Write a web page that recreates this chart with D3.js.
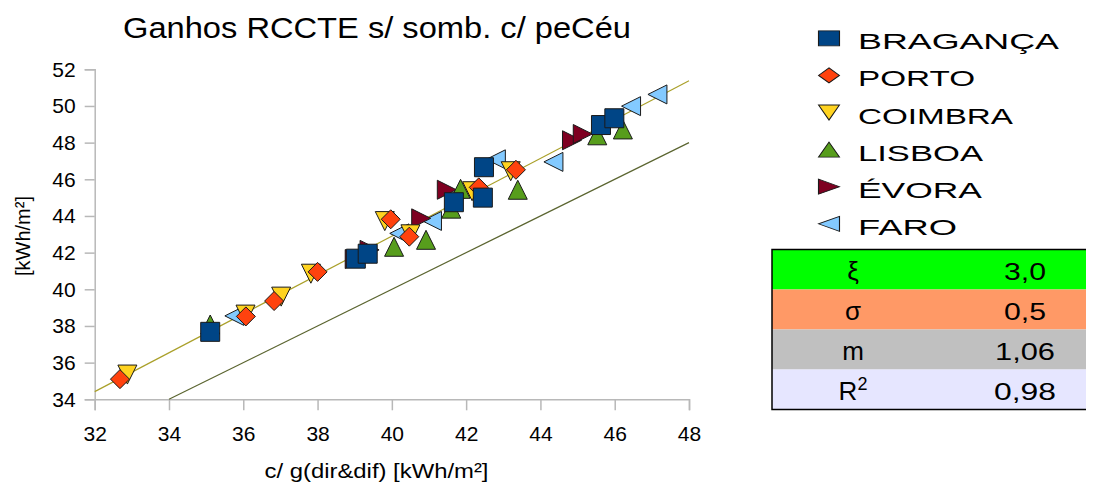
<!DOCTYPE html>
<html><head><meta charset="utf-8">
<script src="https://cdn.jsdelivr.net/npm/d3@7/dist/d3.min.js"></script>
<style>
html,body{margin:0;padding:0;background:#fff;}
svg{display:block;font-family:"Liberation Sans",Arial,sans-serif;}
</style></head>
<body>
<svg id="chart" width="1100" height="484"></svg>
<script>
// ---------- data ----------
const titleText = "Ganhos RCCTE s/ somb. c/ peCéu";
const xTitle = "c/ g(dir&dif) [kWh/m²]";
const yTitle = "[kWh/m²]";
const xTicks = [32, 34, 36, 38, 40, 42, 44, 46, 48];
const yTicks = [34, 36, 38, 40, 42, 44, 46, 48, 50, 52];
const seriesNames = ["BRAGANÇA", "PORTO", "COIMBRA", "LISBOA", "ÉVORA", "FARO"];
const seriesColors = ["#004586", "#ff420e", "#ffd320", "#579d1c", "#7e0021", "#83caff"];
const seriesShapes = ["square", "diamond", "down", "up", "right", "left"];

const braganca = [[35.11,37.68],[39.03,41.67],[39.35,41.94],[41.67,44.75],[42.45,45.0],[42.48,46.66],[45.63,48.96],[45.99,49.33]];
const porto    = [[32.68,35.10],[36.07,38.52],[36.83,39.36],[38.0,40.95],[39.97,43.82],[40.47,42.87],[42.34,45.56],[43.34,46.52]];
const coimbra  = [[32.88,35.35],[36.06,38.62],[37.02,39.6],[37.82,40.85],[39.81,43.72],[40.5,43.0],[42.16,45.35],[43.2,46.44]];
const lisboa   = [[35.11,38.08],[40.06,42.32],[40.92,42.7],[41.6,44.4],[41.85,45.48],[43.39,45.43],[45.53,48.4],[46.22,48.72]];
const evora    = [[39.0,41.65],[39.4,42.15],[40.79,43.87],[41.48,45.43],[44.85,48.13],[45.14,48.47]];
const faro     = [[35.76,38.55],[40.2,43.05],[41.08,43.73],[42.8,47.09],[44.35,46.95],[46.44,49.99],[47.15,50.63]];
const seriesData = [braganca, porto, coimbra, lisboa, evora, faro];

const trendSlope = 1.06, trendIntercept = 0.5;   // regression line
const refLine = [[34, 34], [48, 48]];            // y = x

const tableLabels = ["ξ", "σ", "m", "R2"];
const tableValues = ["3,0", "0,5", "1,06", "0,98"];
const tableColors = ["#00ff00", "#ff9966", "#c0c0c0", "#e6e6ff"];

// ---------- layout ----------
const svg = d3.select("#chart");
const x = d3.scaleLinear().domain([32, 48]).range([94.7, 689]);
const y = d3.scaleLinear().domain([34, 52]).range([399.3, 69.3]);

function shapePath(shape, h) {
  switch (shape) {
    case "square":  return `M${-h},${-h}H${h}V${h}H${-h}Z`;
    case "diamond": return `M0,${-h}L${h},0L0,${h}L${-h},0Z`;
    case "down":    return `M${-h},${-h}L${h},${-h}L0,${h}Z`;
    case "up":      return `M0,${-h}L${h},${h}L${-h},${h}Z`;
    case "right":   return `M${-h},${-h}L${h},0L${-h},${h}Z`;
    case "left":    return `M${h},${-h}L${-h},0L${h},${h}Z`;
  }
}

// title
svg.append("text").attr("x", 377).attr("y", 38).attr("text-anchor", "middle")
  .attr("font-size", 30).attr("textLength", 508).attr("lengthAdjust", "spacingAndGlyphs")
  .text(titleText);

// axes
const axisColor = "#b8b8b8";
const gx = svg.append("g").attr("transform", `translate(0,${y(34)})`)
  .call(d3.axisBottom(x).tickValues(xTicks).tickSize(11).tickPadding(16).tickFormat(d3.format("d")));
const gy = svg.append("g").attr("transform", `translate(${x(32)},0)`)
  .call(d3.axisLeft(y).tickValues(yTicks).tickSize(10).tickPadding(9).tickFormat(d3.format("d")));
[gx, gy].forEach(g => {
  g.select(".domain").attr("stroke", axisColor).attr("stroke-width", 1.5);
  g.selectAll(".tick line").attr("stroke", axisColor).attr("stroke-width", 1.5);
  g.selectAll(".tick text").attr("font-size", 21).attr("fill", "#000")
    .attr("font-family", "Liberation Sans, Arial, sans-serif");
});

// axis titles
svg.append("text").attr("x", 376.5).attr("y", 478).attr("text-anchor", "middle")
  .attr("font-size", 20).attr("textLength", 224).attr("lengthAdjust", "spacingAndGlyphs")
  .text(xTitle);
svg.append("text").attr("transform", `translate(30,236) rotate(-90)`).attr("text-anchor", "middle")
  .attr("font-size", 20).text(yTitle);

// lines
const line = d3.line().x(d => x(d[0])).y(d => y(d[1]));
svg.append("path").datum(refLine).attr("d", line)
  .attr("fill", "none").attr("stroke", "#5b6530").attr("stroke-width", 1.2);
const trend = [32, 48].map(v => [v, trendSlope * v + trendIntercept]);
svg.append("path").datum(trend).attr("d", line)
  .attr("fill", "none").attr("stroke", "#aaa02a").attr("stroke-width", 1.2);

// points (last series drawn first, so BRAGANÇA ends on top)
const order = d3.range(seriesData.length).reverse();
order.forEach(i => {
  svg.append("g").selectAll("path").data(seriesData[i]).join("path")
    .attr("transform", d => `translate(${x(d[0])},${y(d[1])})`)
    .attr("d", shapePath(seriesShapes[i], 9.5))
    .attr("fill", seriesColors[i]).attr("stroke", "#1a1a1a").attr("stroke-width", 1);
});

// legend
const legendLens = [201, 117, 155, 125, 124, 99];
const lg = svg.append("g");
seriesNames.forEach((name, i) => {
  const by = 49.3 + i * 37.1;
  lg.append("path")
    .attr("transform", `translate(829,${by - 11}) scale(1.4,1)`)
    .attr("d", shapePath(seriesShapes[i], 7.5))
    .attr("fill", seriesColors[i]).attr("stroke", "#1a1a1a").attr("stroke-width", 0.8);
  lg.append("text").attr("x", 858).attr("y", by).attr("font-size", 22)
    .attr("textLength", legendLens[i]).attr("lengthAdjust", "spacingAndGlyphs").text(name);
});

// stats table
const tx0 = 772, tx1 = 1086, ty0 = 249.5, rowH = 40;
const tg = svg.append("g");
tableLabels.forEach((lab, i) => {
  const ry = ty0 + i * rowH;
  tg.append("rect").attr("x", tx0).attr("y", ry).attr("width", tx1 - tx0).attr("height", rowH)
    .attr("fill", tableColors[i]);
  const t = tg.append("text").attr("x", 853).attr("y", ry + 30.5).attr("text-anchor", "middle")
    .attr("font-size", 26);
  if (lab === "R2") {
    t.append("tspan").text("R");
    t.append("tspan").attr("font-size", 18).attr("dy", -10).text("2");
  } else {
    t.text(lab);
  }
});
const valLens = [42, 42, 60, 62];
tableValues.forEach((v, i) => {
  const ry = ty0 + i * rowH;
  tg.append("text").attr("x", 1025).attr("y", ry + 30.5).attr("text-anchor", "middle")
    .attr("font-size", 24).attr("textLength", valLens[i]).attr("lengthAdjust", "spacingAndGlyphs")
    .text(v);
});
tg.append("path")
  .attr("d", `M${tx1},${ty0}H${tx0}V${ty0 + 4 * rowH}H${tx1}`)
  .attr("fill", "none").attr("stroke", "#000").attr("stroke-width", 1.5);
</script>
</body></html>
